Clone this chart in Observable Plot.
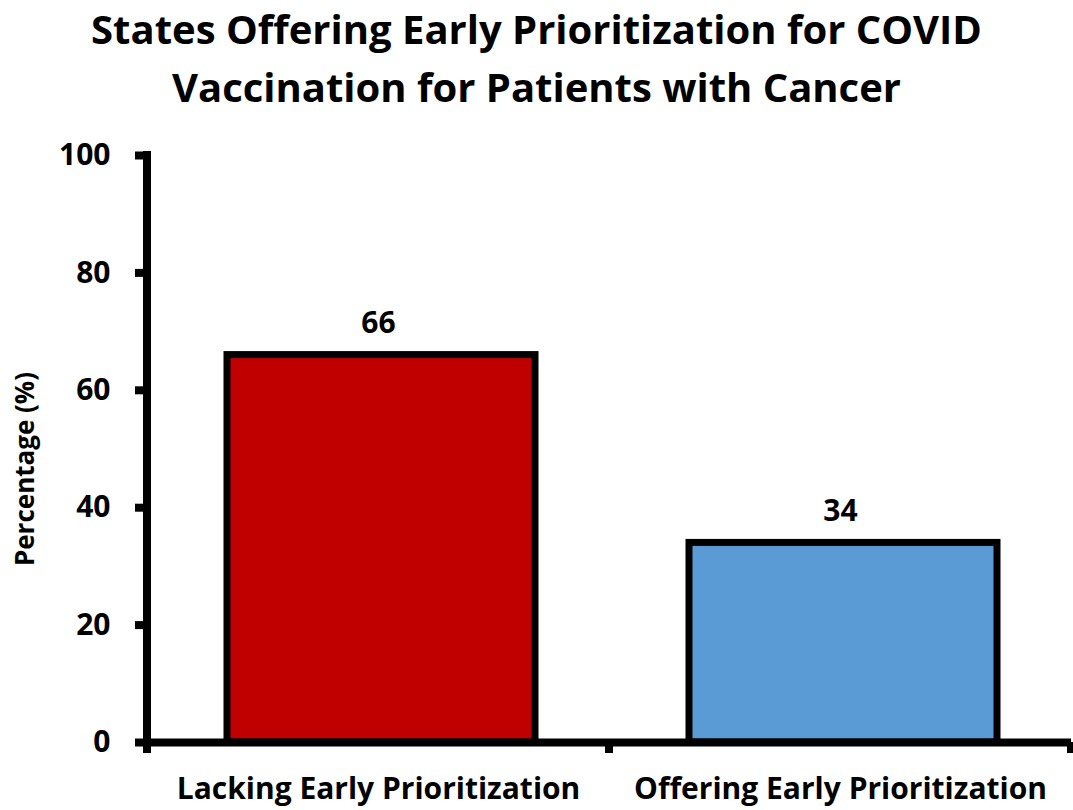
<!DOCTYPE html>
<html>
<head>
<meta charset="utf-8">
<script src="https://cdn.jsdelivr.net/npm/d3@7"></script>
<script src="https://cdn.jsdelivr.net/npm/@observablehq/plot@0.6"></script>
<style>
  html, body { margin: 0; padding: 0; background: #fff; }
  #wrap { width: 1073px; height: 810px; position: relative; overflow: hidden; font-family: "Open Sans", Lato, sans-serif; }
  #title { position: absolute; left: 0; top: 0; width: 1073px; text-align: center; font-weight: bold; font-size: 40px; line-height: 58px; color: #000; }
  #chart { position: absolute; left: 0; top: 130px; }
  #chart svg { display: block; }
</style>
</head>
<body>
<div id="wrap">
  <div id="title">States Offering Early Prioritization for COVID<br>Vaccination for Patients with Cancer</div>
  <div id="chart"></div>
</div>
<script>
const categories = ["Lacking Early Prioritization", "Offering Early Prioritization"];
const values = [66, 34];
const colors = ["#C00000", "#5B9BD5"];
const yTicks = [0, 20, 40, 60, 80, 100];
const yLabel = "Percentage (%)";

const data = categories.map((c, i) => ({cat: c, value: values[i], color: colors[i]}));

const chart = Plot.plot({
  width: 1073,
  height: 680,
  marginTop: 25,
  marginBottom: 68,
  marginLeft: 147,
  marginRight: 2,
  style: {fontFamily: "'Open Sans', Lato, sans-serif", color: "#000", background: "#fff"},
  x: {domain: categories, padding: 0, label: null},
  y: {domain: [0, 100], label: null},
  marks: [
    Plot.barY(data, {x: "cat", y: "value", fill: "color", stroke: "black", strokeWidth: 7, insetLeft: 80, insetRight: 74}),
    Plot.text(data, {x: "cat", y: "value", text: d => String(d.value), dy: -32, fontSize: 30, fontWeight: "bold", fill: "black"}),
    Plot.ruleY([0], {stroke: "black", strokeWidth: 8}),
    Plot.axisY({ticks: yTicks, tickSize: 12, tickPadding: 25, strokeWidth: 8, stroke: "black", fontSize: 30, fontWeight: "bold", label: null, tickFormat: d => String(d)}),
    Plot.axisX({tickSize: 0, tickPadding: 35, fontSize: 30, fontWeight: "bold", label: null}),
    Plot.text([yLabel], {frameAnchor: "left", textAnchor: "middle", rotate: -90, dx: -122, dy: 20, fontSize: 26, fontWeight: "bold", fill: "black"})
  ]
});

// axis lines and boundary ticks derived from the library's scales
const xs = chart.scale("x");
const ys = chart.scale("y");
const svg = d3.select(chart);
const y0 = ys.apply(0);
const y100 = ys.apply(100);
const x0 = xs.range[0];
const bounds = categories.map(c => xs.apply(c)).concat([xs.range[1]]);
const g = svg.append("g").attr("stroke", "black").attr("stroke-width", 8);
g.append("line").attr("x1", x0).attr("x2", x0).attr("y1", y100 - 4).attr("y2", y0 + 11);
bounds.slice(1).forEach(b => {
  g.append("line").attr("x1", b).attr("x2", b).attr("y1", y0).attr("y2", y0 + 11);
});

document.getElementById("chart").appendChild(chart);
</script>
</body>
</html>
